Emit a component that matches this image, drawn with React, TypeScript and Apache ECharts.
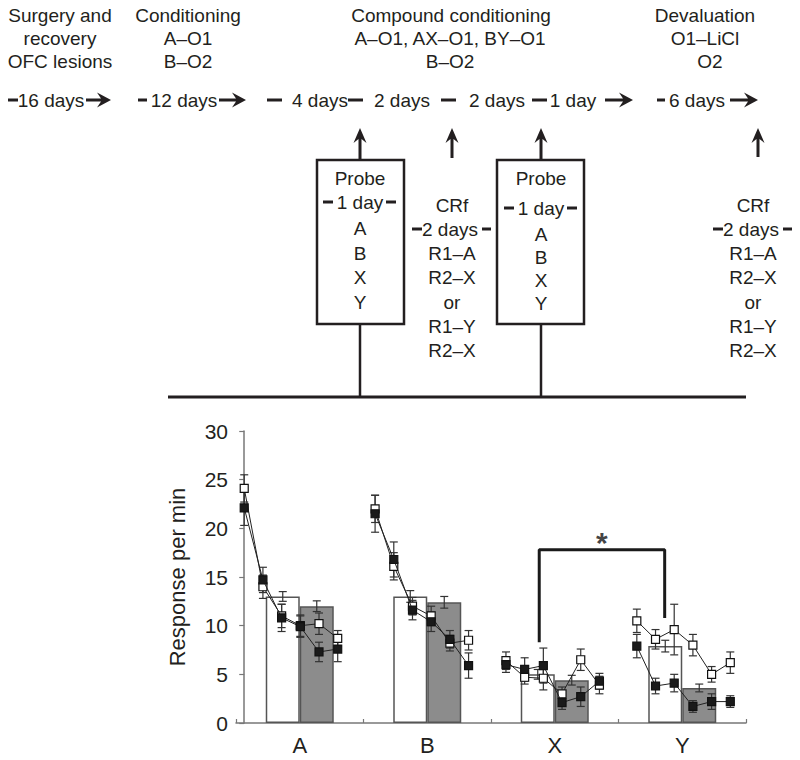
import React, { useEffect, useRef } from 'react';
import * as echarts from 'echarts';

// ---------- data ----------
const categories = ['A', 'B', 'X', 'Y'];
const whiteBars = [13.0, 13.0, 5.0, 7.9];
const whiteBarSem = [0.5, 0.6, 0.5, 0.6];
const grayBars = [12.0, 12.4, 4.4, 3.6];
const grayBarSem = [0.55, 0.6, 0.5, 0.4];

// positions of the individual session points on a hidden session axis
const sessionSlots = [
  [0, 1, 2, 3, 4, 5],
  [7, 8, 9, 10, 11, 12],
  [14, 15, 16, 17, 18, 19],
  [21, 22, 23, 24, 25, 26],
];
const openMeans = [
  [24.1, 14.0, 11.0, 10.0, 10.2, 8.7],
  [22.0, 16.1, 12.0, 11.0, 8.2, 8.5],
  [6.4, 4.7, 4.6, 3.0, 6.5, 3.9],
  [10.5, 8.6, 9.6, 8.0, 5.0, 6.2],
];
const openSem = [
  [1.4, 1.2, 1.2, 1.1, 1.1, 0.8],
  [1.4, 1.4, 0.9, 1.0, 0.8, 1.0],
  [0.9, 0.7, 1.2, 0.7, 1.1, 0.9],
  [1.2, 1.0, 2.6, 1.1, 0.8, 1.1],
];
const filledMeans = [
  [22.1, 14.7, 10.8, 9.9, 7.3, 7.6],
  [21.5, 16.8, 11.6, 10.4, 8.6, 5.9],
  [6.0, 5.5, 5.9, 2.1, 2.7, 4.3],
  [7.9, 3.8, 4.1, 1.7, 2.2, 2.2],
];
const filledSem = [
  [1.8, 1.3, 1.4, 1.1, 1.0, 1.3],
  [1.9, 1.8, 1.0, 1.0, 0.9, 1.3],
  [0.8, 1.2, 1.8, 0.7, 1.0, 0.8],
  [1.2, 0.8, 0.9, 0.6, 0.8, 0.6],
];
const bracketPoints = [
  [15.78, 8.3],
  [15.78, 17.8],
  [22.49, 17.8],
  [22.49, 10.8],
];
const starPoint = [19.13, 18.8];

// ---------- style constants ----------
const FONT = '"Liberation Sans", Arial, Helvetica, sans-serif';
const INK = '#231f20';
const AXIS = '#777';
const BAR_W = 34;
const DFS = 19;

// ---------- diagram helpers ----------
function txt(x: number, y: number, s: string, size = DFS): any {
  return {
    type: 'text',
    x,
    y,
    style: { text: s, fill: INK, fontSize: size, fontFamily: FONT, align: 'center', verticalAlign: 'middle' },
  };
}
function dash(x1: number, x2: number, y: number): any {
  return { type: 'rect', shape: { x: x1, y: y - 1.5, width: x2 - x1, height: 3 }, style: { fill: INK } };
}
function rArrow(x0: number, x1: number, y: number): any {
  return {
    type: 'polygon',
    shape: {
      points: [
        [x0, y - 1.6],
        [x1 - 10, y - 1.6],
        [x1 - 14, y - 7.5],
        [x1, y],
        [x1 - 14, y + 7.5],
        [x1 - 10, y + 1.6],
        [x0, y + 1.6],
      ],
    },
    style: { fill: INK },
  };
}
function uArrow(x: number, yt: number, yb: number): any {
  return {
    type: 'polygon',
    shape: {
      points: [
        [x - 1.5, yb],
        [x - 1.5, yt + 11],
        [x - 6.5, yt + 15],
        [x, yt],
        [x + 6.5, yt + 15],
        [x + 1.5, yt + 11],
        [x + 1.5, yb],
      ],
    },
    style: { fill: INK },
  };
}
function seg(x1: number, y1: number, x2: number, y2: number, w: number): any {
  return { type: 'line', shape: { x1, y1, x2, y2 }, style: { stroke: INK, lineWidth: w } };
}

function buildDiagram(): any[] {
  const g: any[] = [];
  // headers
  g.push(txt(60, 15, 'Surgery and'), txt(60, 38, 'recovery'), txt(60, 61, 'OFC lesions'));
  g.push(txt(188, 15, 'Conditioning'), txt(188, 38, 'A–O1'), txt(188, 61, 'B–O2'));
  g.push(txt(451, 15, 'Compound conditioning'), txt(450, 38, 'A–O1, AX–O1, BY–O1'), txt(450, 61, 'B–O2'));
  g.push(txt(705, 15, 'Devaluation'), txt(705, 38, 'O1–LiCl'), txt(710, 61, 'O2'));
  // timeline
  const ty = 100;
  g.push(dash(8, 18, ty), txt(51, ty, '16 days'), rArrow(86, 111, ty));
  g.push(dash(138, 147, ty), txt(184, ty, '12 days'), rArrow(219, 246, ty));
  g.push(dash(267, 282, ty), txt(320, ty, '4 days'), dash(348, 363, ty), txt(402, ty, '2 days'));
  g.push(dash(441, 456, ty), txt(497, ty, '2 days'), dash(532, 547, ty), txt(573, ty, '1 day'), rArrow(605, 633, ty));
  g.push(dash(657, 665, ty), txt(697, ty, '6 days'), rArrow(730, 758, ty));
  // up arrows
  g.push(uArrow(360, 128, 160), uArrow(452, 128, 158), uArrow(541, 128, 160), uArrow(758, 128, 157));
  // probe boxes
  const boxes = [
    { cx: 360, x: 317, ys: [178, 202, 228, 253, 277, 302] },
    { cx: 541, x: 497, ys: [178, 208, 234, 257, 280, 303] },
  ];
  boxes.forEach((b) => {
    g.push({ type: 'rect', shape: { x: b.x, y: 160, width: 87, height: 164 }, style: { fill: 'none', stroke: INK, lineWidth: 2.5 } });
    g.push(txt(b.cx, b.ys[0], 'Probe'));
    g.push(dash(b.cx - 37, b.cx - 27, b.ys[1]), txt(b.cx, b.ys[1], '1 day'), dash(b.cx + 26, b.cx + 36, b.ys[1]));
    g.push(txt(b.cx, b.ys[2], 'A'), txt(b.cx, b.ys[3], 'B'), txt(b.cx, b.ys[4], 'X'), txt(b.cx, b.ys[5], 'Y'));
    g.push(seg(b.cx, 324, b.cx, 397, 2.5));
  });
  // CRf columns
  [452, 753].forEach((cx) => {
    g.push(txt(cx, 205, 'CRf'));
    g.push(dash(cx - 40, cx - 30, 229), txt(cx - 2, 229, '2 days'), dash(cx + 30, cx + 39, 229));
    g.push(txt(cx, 253, 'R1–A'), txt(cx, 277, 'R2–X'), txt(cx, 302, 'or'), txt(cx, 326, 'R1–Y'), txt(cx, 350, 'R2–X'));
  });
  // base line
  g.push(seg(168, 397, 746, 397, 3));
  return g;
}

// ---------- error bar renderers ----------
function errGroup(x: number, yLo: number, yHi: number, w: number): any {
  const st = { stroke: '#333', lineWidth: 1.2 };
  return {
    type: 'group',
    children: [
      { type: 'line', shape: { x1: x, y1: yLo, x2: x, y2: yHi }, style: st },
      { type: 'line', shape: { x1: x - w, y1: yLo, x2: x + w, y2: yLo }, style: st },
      { type: 'line', shape: { x1: x - w, y1: yHi, x2: x + w, y2: yHi }, style: st },
    ],
  };
}

function barErrSeries(means: number[], sems: number[], side: number): any {
  return {
    type: 'custom',
    xAxisIndex: 0,
    yAxisIndex: 0,
    z: 3,
    data: means.map((m, i) => [i, m - sems[i], m + sems[i]]),
    encode: { x: 0, y: [1, 2] },
    renderItem: (params: any, api: any) => {
      const lo = api.coord([api.value(0), api.value(1)]);
      const hi = api.coord([api.value(0), api.value(2)]);
      const x = lo[0] + (side * BAR_W) / 2;
      return errGroup(x, lo[1], hi[1], 4);
    },
  };
}

function pointErrSeries(means: number[][], sems: number[][]): any {
  const data: number[][] = [];
  means.forEach((grp, g) => grp.forEach((m, k) => data.push([sessionSlots[g][k], m - sems[g][k], m + sems[g][k]])));
  return {
    type: 'custom',
    xAxisIndex: 1,
    yAxisIndex: 0,
    z: 3,
    data,
    encode: { x: 0, y: [1, 2] },
    renderItem: (params: any, api: any) => {
      const lo = api.coord([api.value(0), api.value(1)]);
      const hi = api.coord([api.value(0), api.value(2)]);
      return errGroup(lo[0], lo[1], hi[1], 4);
    },
  };
}

function lineSeries(means: number[][], filled: boolean): any[] {
  return means.map((grp, g) => ({
    type: 'line',
    xAxisIndex: 1,
    yAxisIndex: 0,
    z: filled ? 5 : 4,
    data: grp.map((m, k) => [sessionSlots[g][k], m]),
    symbol: 'rect',
    symbolSize: 8,
    showSymbol: true,
    lineStyle: { color: '#222', width: 1 },
    itemStyle: { color: filled ? '#1a1a1a' : '#ffffff', borderColor: '#111', borderWidth: 1.2 },
    emphasis: { disabled: true },
    silent: true,
  }));
}

export default function App() {
  const ref = useRef<HTMLDivElement>(null);
  useEffect(() => {
    if (!ref.current) return;
    const chart = echarts.init(ref.current, undefined, { renderer: 'svg' });
    const option: any = {
      animation: false,
      backgroundColor: '#fff',
      grid: { left: 236, right: 54, top: 431, bottom: 37, containLabel: false },
      xAxis: [
        {
          type: 'category',
          data: categories,
          boundaryGap: true,
          axisLine: { lineStyle: { color: AXIS, width: 1.5 } },
          axisTick: { show: true, inside: true, length: 4, alignWithLabel: false, lineStyle: { color: AXIS, width: 1.2 } },
          axisLabel: { fontSize: 22, color: INK, fontFamily: FONT, margin: 11 },
          splitLine: { show: false },
        },
        {
          type: 'value',
          min: -0.44,
          max: 26.84,
          show: false,
          splitLine: { show: false },
        },
      ],
      yAxis: {
        type: 'value',
        min: 0,
        max: 30,
        interval: 5,
        name: 'Response per min',
        nameLocation: 'middle',
        nameGap: 48,
        nameRotate: 90,
        nameTextStyle: { fontSize: 22, color: INK, fontFamily: FONT },
        axisLine: { show: true, lineStyle: { color: AXIS, width: 1.5 } },
        axisTick: { show: true, inside: false, length: 5, lineStyle: { color: AXIS, width: 1.2 } },
        axisLabel: { fontSize: 21, color: INK, fontFamily: FONT, margin: 8 },
        splitLine: { show: false },
      },
      graphic: buildDiagram(),
      series: [
        {
          type: 'bar',
          xAxisIndex: 0,
          data: whiteBars,
          barWidth: BAR_W,
          barGap: '0%',
          itemStyle: { color: '#ffffff', borderColor: '#555', borderWidth: 1.5 },
          silent: true,
          z: 1,
        },
        {
          type: 'bar',
          xAxisIndex: 0,
          data: grayBars,
          barWidth: BAR_W,
          barGap: '0%',
          itemStyle: { color: '#8c8c8c', borderColor: '#555', borderWidth: 1.5 },
          silent: true,
          z: 1,
        },
        barErrSeries(whiteBars, whiteBarSem, -1),
        barErrSeries(grayBars, grayBarSem, 1),
        pointErrSeries(openMeans, openSem),
        pointErrSeries(filledMeans, filledSem),
        ...lineSeries(openMeans, false),
        ...lineSeries(filledMeans, true),
        {
          type: 'line',
          xAxisIndex: 1,
          data: bracketPoints,
          symbol: 'none',
          lineStyle: { color: '#1a1a1a', width: 3 },
          silent: true,
          z: 6,
        },
        {
          type: 'scatter',
          xAxisIndex: 1,
          data: [starPoint],
          symbolSize: 2,
          itemStyle: { color: 'rgba(0,0,0,0)' },
          label: {
            show: true,
            formatter: '*',
            position: 'inside',
            fontSize: 30,
            fontWeight: 'bold',
            color: '#111',
            fontFamily: FONT,
            offset: [0, 2],
          },
          silent: true,
          z: 6,
        },
      ],
    };
    chart.setOption(option);
    return () => chart.dispose();
  }, []);
  return <div ref={ref} style={{ position: 'absolute', left: 0, top: 0, width: 800, height: 760 }} />;
}
